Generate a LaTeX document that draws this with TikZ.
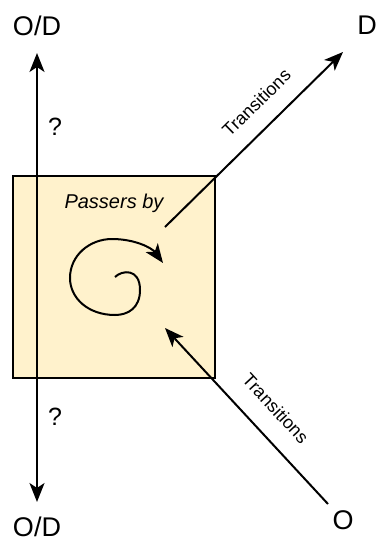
\documentclass[tikz,border=0pt]{standalone}
\usepackage{fontspec}
\setmainfont{Liberation Sans}
\usetikzlibrary{arrows.meta}
\definecolor{boxfill}{HTML}{FFF2CC}
\tikzset{
  conn/.style={line width=2pt, draw=black},
  tipa/.style={-{Stealth[length=19pt,width=15pt,inset=5pt]}},
  tipb/.style={{Stealth[length=19pt,width=15pt,inset=5pt]}-{Stealth[length=19pt,width=15pt,inset=5pt]}},
  tipc/.style={{Stealth[length=19pt,width=15pt,inset=5pt]}-},
  box/.style={draw=black, line width=2pt, fill=boxfill, minimum width=202pt, minimum height=202pt, inner sep=0pt},
  big/.style={font=\fontsize{27}{30}\selectfont, inner sep=0pt},
  lbl/.style={font=\fontsize{18}{20}\selectfont, inner sep=0pt},
  qm/.style={font=\fontsize{25}{28}\selectfont, inner sep=0pt}
}
\begin{document}
\begin{tikzpicture}[x=1pt, y=-1pt]
\useasboundingbox (0,0) rectangle (378,542);
\node[box] (sq) at (114,277) {};
\node[big] (odtop) at (37,26) {O/D};
\node[big] (dd) at (367,25) {D};
\node[big] (odbot) at (37,527) {O/D};
\node[big] (oo) at (343,520) {O};
\node[qm] (q1) at (55,127) {?};
\node[qm] (q2) at (55,417) {?};
\node[font=\fontsize{20}{22}\selectfont\itshape, inner sep=0pt] (pb) at (114,203) {Passers by};
\coordinate (vtop) at (37,53);
\coordinate (vbot) at (37,502);
\coordinate (s1) at (165,227);
\coordinate (dtip) at (343,52);
\coordinate (otip) at (165,328);
\coordinate (ostart) at (328,504);
\draw[conn, tipb] (vbot) -- (vtop);
\draw[conn, tipa] (s1) -- node[lbl, sloped, above=17pt, pos=0.61] (t1) {Transitions} (dtip);
\draw[conn, tipc] (otip) -- node[lbl, sloped, above=19pt, pos=0.56] (t2) {Transitions} (ostart);
\draw[conn, tipa] (115,277) .. controls (122,270) and (140,268) .. (140,290)
  .. controls (140,308) and (128,315) .. (115,315)
  .. controls (88,315) and (70,298) .. (70,278)
  .. controls (70,255) and (90,239) .. (112,239)
  .. controls (135,239) and (152,248) .. (163,263);
\end{tikzpicture}
\end{document}
